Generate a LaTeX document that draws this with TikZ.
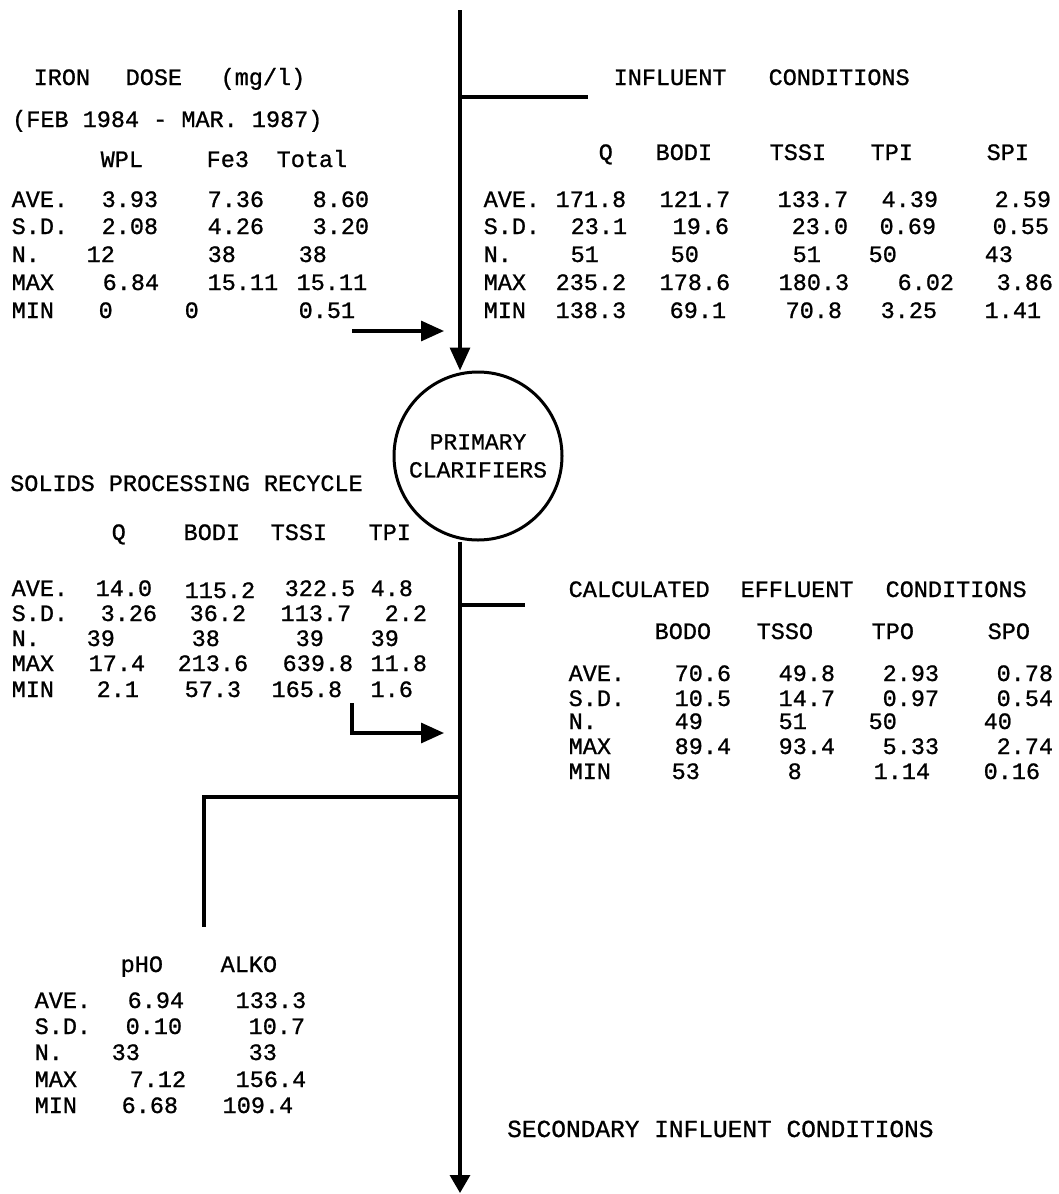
\documentclass[tikz,border=0pt]{standalone}
\usepackage{fontspec}
\newfontfamily\mono[FakeBold=0.9]{Liberation Mono}
\usetikzlibrary{arrows.meta}
\newcommand\cl[2]{\makebox[0pt][l]{\hspace*{#1pt}#2}}
\tikzset{
  row/.style={anchor=base west, inner sep=0pt, font=\mono\fontsize{23.5}{27}\selectfont},
  flow/.style={line width=3.2pt},
  head/.style={-{Triangle[length=23pt,width=20pt]}},
  endhead/.style={-{Triangle[length=18pt,width=20pt]}},
  vessel/.style={circle, draw, line width=3pt, minimum size=168pt, inner sep=0pt,
    align=center, font=\mono\fontsize{23}{28}\selectfont}
}
\begin{document}
\begin{tikzpicture}[x=1pt,y=-1pt]
\useasboundingbox (0,0) rectangle (1058,1194);
\fill[white] (0,0) rectangle (1058,1194);

% ---- iron dose
\node[row] (ironTitle) at (0,85) {\cl{33}{IRON}\cl{125}{DOSE}\cl{220}{(mg/l)}};
\node[row] (ironPeriod) at (12,127) {(FEB 1984 - MAR. 1987)};
\node[row] (ironHead) at (0,167) {\cl{100}{WPL}\cl{206}{Fe3}\cl{276}{Total}};
\node[row] (ironAve) at (0,207) {\cl{11}{AVE.}\cl{101}{3.93}\cl{207}{7.36}\cl{312}{8.60}};
\node[row] (ironSd) at (0,234) {\cl{11}{S.D.}\cl{101}{2.08}\cl{207}{4.26}\cl{312}{3.20}};
\node[row] (ironN) at (0,262) {\cl{11}{N.}\cl{86}{12}\cl{207}{38}\cl{298}{38}};
\node[row] (ironMax) at (0,290) {\cl{11}{MAX}\cl{102}{6.84}\cl{207}{15.11}\cl{296}{15.11}};
\node[row] (ironMin) at (0,318) {\cl{11}{MIN}\cl{98}{0}\cl{184}{0}\cl{298}{0.51}};

% ---- influent
\node[row] (infTitle) at (0,85) {\cl{613}{INFLUENT}\cl{768}{CONDITIONS}};
\node[row] (infHead) at (0,160) {\cl{598}{Q}\cl{655}{BODI}\cl{769}{TSSI}\cl{870}{TPI}\cl{986}{SPI}};
\node[row] (infAve) at (0,207) {\cl{483}{AVE.}\cl{555}{171.8}\cl{659}{121.7}\cl{777}{133.7}\cl{881}{4.39}\cl{994}{2.59}};
\node[row] (infSd) at (0,234) {\cl{483}{S.D.}\cl{570}{23.1}\cl{672}{19.6}\cl{791}{23.0}\cl{879}{0.69}\cl{992}{0.55}};
\node[row] (infN) at (0,262) {\cl{483}{N.}\cl{570}{51}\cl{670}{50}\cl{792}{51}\cl{868}{50}\cl{984}{43}};
\node[row] (infMax) at (0,290) {\cl{483}{MAX}\cl{555}{235.2}\cl{659}{178.6}\cl{778}{180.3}\cl{897}{6.02}\cl{996}{3.86}};
\node[row] (infMin) at (0,318) {\cl{483}{MIN}\cl{555}{138.3}\cl{669}{69.1}\cl{785}{70.8}\cl{880}{3.25}\cl{984}{1.41}};

% ---- solids recycle
\node[row] (solTitle) at (10,491) {SOLIDS PROCESSING RECYCLE};
\node[row] (solHead) at (0,540) {\cl{111}{Q}\cl{183}{BODI}\cl{270}{TSSI}\cl{368}{TPI}};
\node[row] (solAve) at (0,596) {\cl{11}{AVE.}\cl{95}{14.0}\cl{184}{\raisebox{-2pt}{115.2}}\cl{284}{322.5}\cl{370}{4.8}};
\node[row] (solSd) at (0,621) {\cl{11}{S.D.}\cl{100}{3.26}\cl{189}{36.2}\cl{280}{113.7}\cl{384}{2.2}};
\node[row] (solN) at (0,646) {\cl{11}{N.}\cl{86}{39}\cl{191}{38}\cl{295}{39}\cl{370}{39}};
\node[row] (solMax) at (0,671) {\cl{11}{MAX}\cl{88}{17.4}\cl{177}{213.6}\cl{282}{639.8}\cl{370}{11.8}};
\node[row] (solMin) at (0,697) {\cl{11}{MIN}\cl{96}{2.1}\cl{184}{57.3}\cl{271}{165.8}\cl{370}{1.6}};

% ---- calculated effluent
\node[row] (effTitle) at (0,597) {\cl{568}{CALCULATED}\cl{740}{EFFLUENT}\cl{885}{CONDITIONS}};
\node[row] (effHead) at (0,639) {\cl{654}{BODO}\cl{756}{TSSO}\cl{871}{TPO}\cl{987}{SPO}};
\node[row] (effAve) at (0,681) {\cl{568}{AVE.}\cl{674}{70.6}\cl{778}{49.8}\cl{882}{2.93}\cl{996}{0.78}};
\node[row] (effSd) at (0,706) {\cl{568}{S.D.}\cl{674}{10.5}\cl{778}{14.7}\cl{882}{0.97}\cl{996}{0.54}};
\node[row] (effN) at (0,729) {\cl{568}{N.}\cl{674}{49}\cl{778}{51}\cl{868}{50}\cl{983}{40}};
\node[row] (effMax) at (0,754) {\cl{568}{MAX}\cl{674}{89.4}\cl{778}{93.4}\cl{882}{5.33}\cl{996}{2.74}};
\node[row] (effMin) at (0,779) {\cl{568}{MIN}\cl{671}{53}\cl{787}{8}\cl{873}{1.14}\cl{983}{0.16}};

% ---- pH / alkalinity
\node[row] (phHead) at (0,972) {\cl{120}{pHO}\cl{220}{ALKO}};
\node[row] (phAve) at (0,1008) {\cl{34}{AVE.}\cl{127}{6.94}\cl{235}{133.3}};
\node[row] (phSd) at (0,1034) {\cl{34}{S.D.}\cl{125}{0.10}\cl{248}{10.7}};
\node[row] (phN) at (0,1060) {\cl{34}{N.}\cl{111}{33}\cl{248}{33}};
\node[row] (phMax) at (0,1087) {\cl{34}{MAX}\cl{129}{7.12}\cl{235}{156.4}};
\node[row] (phMin) at (0,1113) {\cl{34}{MIN}\cl{121}{6.68}\cl{222}{109.4}};

\node[row, font=\mono\fontsize{24.5}{28}\selectfont] (sec) at (507,1137) {SECONDARY INFLUENT CONDITIONS};

% ---- clarifier
\node[vessel] (pc) at (478,456) {PRIMARY\\CLARIFIERS};

% ---- flow lines
\coordinate (top) at (460,10);
\coordinate (j1) at (460,97);
\coordinate (s1) at (588,97);
\coordinate (j2) at (460,605);
\coordinate (s2) at (525,605);
\coordinate (ia0) at (352,331);
\coordinate (ia1) at (444,331);
\coordinate (sa0) at (352,703);
\coordinate (sa1) at (444,733);
\coordinate (br0) at (460,797);
\coordinate (br1) at (204,927);
\coordinate (bot) at (460,1193);

\draw[flow, head] (top) -- (top |- pc.north);
\draw[flow] (j1) -- (s1);
\draw[flow, head] (ia0) -- (ia1);
\draw[flow, endhead] (top |- pc.south) -- (bot);
\draw[flow] (j2) -- (s2);
\draw[flow, head] (sa0) |- (sa1);
\draw[flow] (br0) -| (br1);
\end{tikzpicture}
\end{document}
